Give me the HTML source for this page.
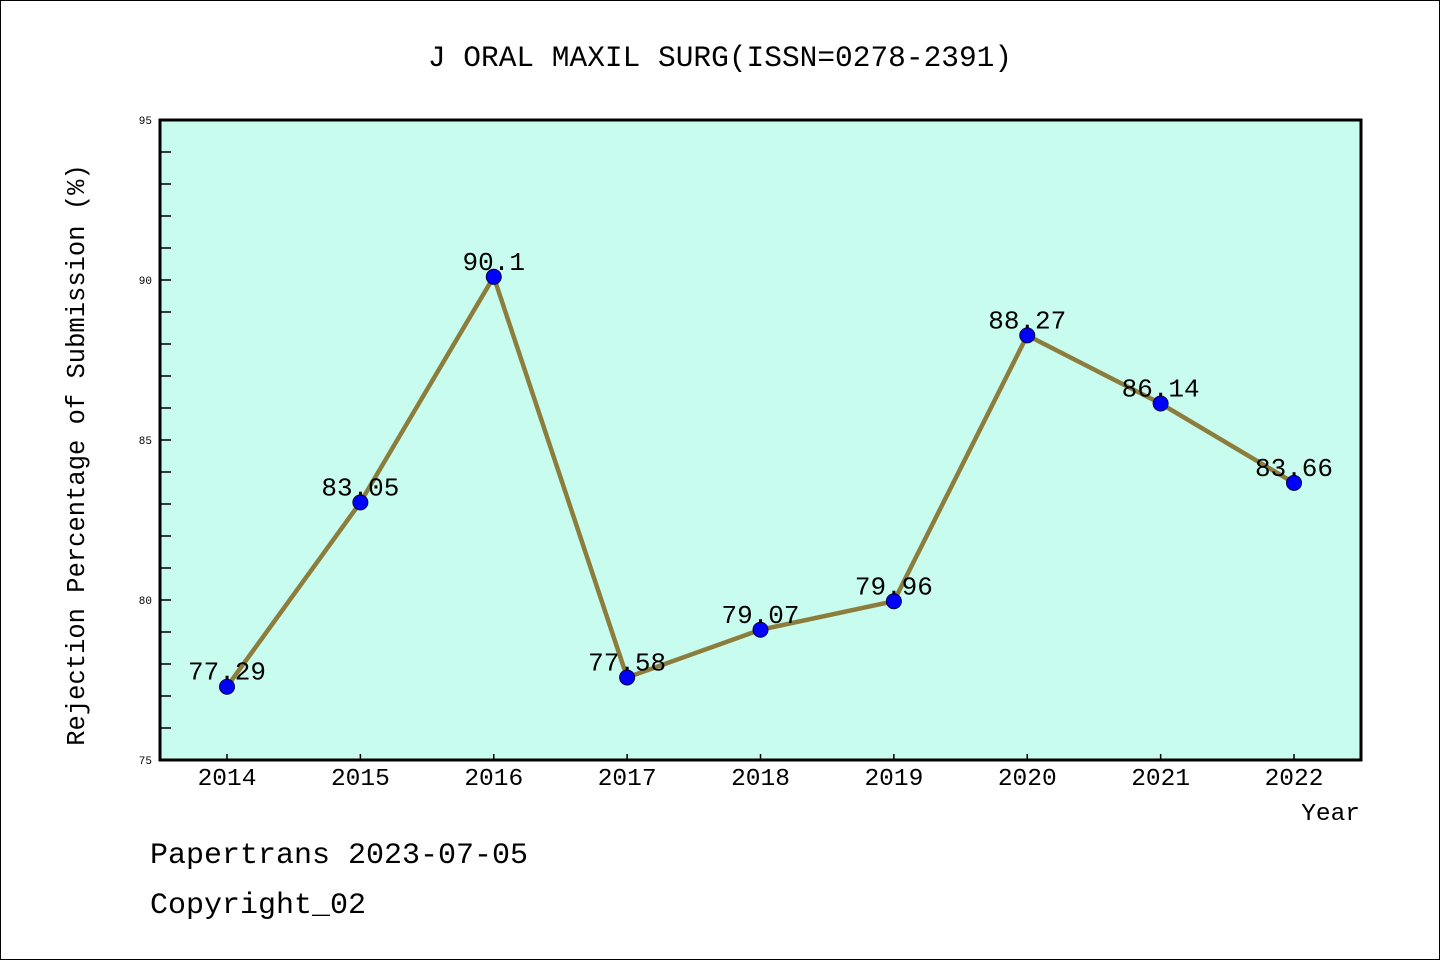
<!DOCTYPE html>
<html><head><meta charset="utf-8"><style>
html,body{margin:0;padding:0;background:#fff}
svg{display:block}
text{font-family:"Liberation Mono","Noto Sans CJK SC",monospace;fill:#000}
</style></head><body>
<svg width="1440" height="960">
<rect x="0.5" y="0.5" width="1439" height="959" fill="#fff" stroke="#000" stroke-width="1"/>
<text x="720" y="66" font-size="29.5" text-anchor="middle">J ORAL MAXIL SURG(ISSN=0278-2391)</text>
<rect x="160" y="120" width="1201" height="640" fill="#c8fcee"/>
<g id="yticks"></g>
<g id="xticks"></g>
<g id="series"></g>
<rect x="160" y="120" width="1201" height="640" fill="none" stroke="#000" stroke-width="3"/>
<text transform="translate(84,455) rotate(-90)" font-size="25.5" text-anchor="middle">Rejection Percentage of Submission (%)</text>
<text x="1360" y="820" font-size="24.5" text-anchor="end">Year</text>
<text x="150" y="863" font-size="30">Papertrans 2023-07-05</text>
<text x="150" y="913" font-size="30">Copyright_02</text>
</svg>
<script>
const years=["2014","2015","2016","2017","2018","2019","2020","2021","2022"];
const values=[77.29,83.05,90.1,77.58,79.07,79.96,88.27,86.14,83.66];
const valueLabels=["77.29","83.05","90.1","77.58","79.07","79.96","88.27","86.14","83.66"];
const yTickLabels=["75","80","85","90","95"];
const NS="http://www.w3.org/2000/svg";
const yMin=75,yMax=95;
function ys(v){return 760-(v-yMin)/(yMax-yMin)*640;}
function xs(i){return 227+i*(1294-227)/(years.length-1);}
function mk(t,a,p){const e=document.createElementNS(NS,t);for(const k in a)e.setAttribute(k,a[k]);p.appendChild(e);return e;}
const yg=document.getElementById('yticks');
for(let v=yMin+1;v<yMax;v++){
  const t=mk('line',{x1:160,x2:171,y1:ys(v),y2:ys(v),stroke:'#000','stroke-width':1.5},yg);
  
  
}
yTickLabels.forEach(s=>{
  const t=mk('text',{x:152,y:ys(+s)+4,'font-size':11,'text-anchor':'end'},yg);t.textContent=s;
  
  
});
const xg=document.getElementById('xticks');
years.forEach((y,i)=>{
  const t=mk('line',{x1:xs(i),x2:xs(i),y1:760,y2:754,stroke:'#000','stroke-width':1.5},xg);
  
  
  const l=mk('text',{x:xs(i),y:785,'font-size':24.5,'text-anchor':'middle'},xg);l.textContent=y;
  
  
});
const sg=document.getElementById('series');
const pl=mk('polyline',{points:values.map((v,i)=>xs(i)+','+ys(v)).join(' '),fill:'none',stroke:'#8c7d3c','stroke-width':4.5,'stroke-linejoin':'round'},sg);


values.forEach((v,i)=>{
  const c=mk('circle',{cx:xs(i),cy:ys(v),r:7.5,fill:'#0000ff',stroke:'#000040','stroke-width':1},sg);
  
  
  const t=mk('text',{x:xs(i),y:ys(v)-7,'font-size':26,'text-anchor':'middle'},sg);t.textContent=valueLabels[i];
  
  
});
</script>
</body></html>
